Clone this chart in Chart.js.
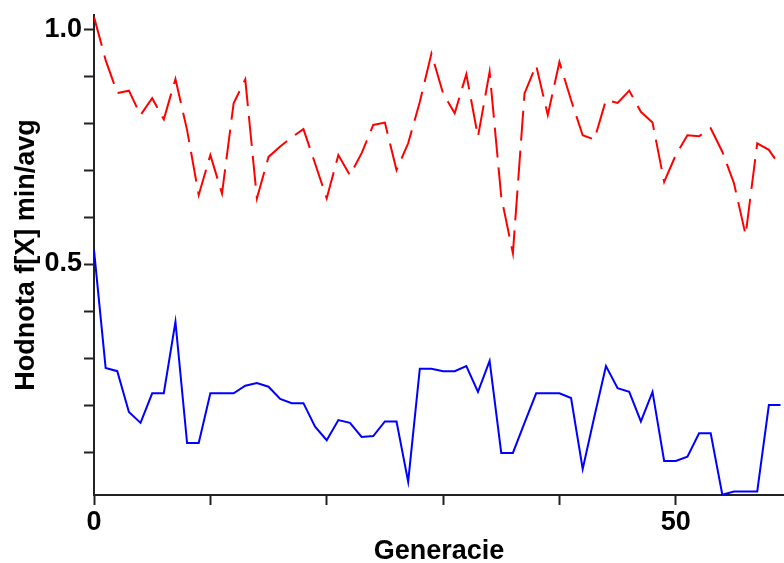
<!DOCTYPE html>
<html lang="cs">
<head>
    <meta charset="UTF-8">
    <title>Hodnota f[X] min/avg</title>
    <style>
        html, body{
            margin: 0;
            padding: 0;
            background-color: #fff;
        }
        .graf{
            position: relative;
            width: 784px;
            height: 563px;
        }
    </style>
</head>
<body>
    <div class="graf">
        <canvas id="graf"></canvas>
    </div>
    <script src="https://cdn.jsdelivr.net/npm/chart.js"></script>
    <script>
        // generace 0..59
        const generacie = [0, 1, 2, 3, 4, 5, 6, 7, 8, 9, 10, 11, 12, 13, 14, 15, 16, 17, 18, 19,
            20, 21, 22, 23, 24, 25, 26, 27, 28, 29, 30, 31, 32, 33, 34, 35, 36, 37, 38, 39,
            40, 41, 42, 43, 44, 45, 46, 47, 48, 49, 50, 51, 52, 53, 54, 55, 56, 57, 58, 59];

        // prumerna hodnota (cervena, carkovana)
        const avgHodnota = [1.026, 0.934, 0.864, 0.869, 0.817, 0.853, 0.808, 0.894, 0.785, 0.647,
            0.732, 0.650, 0.842, 0.893, 0.640, 0.728, 0.750, 0.770, 0.787, 0.714,
            0.640, 0.732, 0.689, 0.736, 0.796, 0.801, 0.700, 0.757, 0.845, 0.948,
            0.863, 0.821, 0.904, 0.771, 0.909, 0.643, 0.523, 0.863, 0.923, 0.817,
            0.930, 0.849, 0.774, 0.765, 0.849, 0.843, 0.869, 0.824, 0.801, 0.675,
            0.732, 0.774, 0.772, 0.789, 0.739, 0.672, 0.562, 0.757, 0.743, 0.707];

        // minimalni hodnota (modra)
        const minHodnota = [0.530, 0.279, 0.272, 0.185, 0.162, 0.225, 0.225, 0.377, 0.119, 0.119,
            0.225, 0.225, 0.225, 0.241, 0.247, 0.239, 0.213, 0.204, 0.204, 0.154,
            0.125, 0.168, 0.162, 0.132, 0.134, 0.165, 0.165, 0.037, 0.277, 0.277,
            0.272, 0.272, 0.283, 0.228, 0.294, 0.098, 0.098, 0.162, 0.225, 0.225,
            0.225, 0.215, 0.064, 0.175, 0.283, 0.236, 0.228, 0.165, 0.228, 0.081,
            0.081, 0.090, 0.140, 0.140, 0.009, 0.016, 0.016, 0.016, 0.200, 0.200];

        const xTicks = [0, 10, 20, 30, 40, 50];
        const xPopisky = ['0', '', '', '', '', '50'];
        const yTicks = [0.1, 0.2, 0.3, 0.4, 0.5, 0.6, 0.7, 0.8, 0.9, 1.0];
        const yPopisky = ['', '', '', '', '0.5', '', '', '', '', '1.0'];

        const pismo = {family: 'Arial, "Liberation Sans", sans-serif', size: 27, weight: 'bold', lineHeight: 1};
        const barvaOsy = '#222';

        function body(hodnoty){
            return generacie.map((g, i) => ({x: g, y: hodnoty[i]}));
        }

        new Chart(document.getElementById('graf').getContext('2d'), {
            type: 'line',
            data: {
                datasets: [{
                    label: 'avg',
                    data: body(avgHodnota),
                    borderColor: '#ff0000',
                    borderWidth: 2,
                    borderDash: [30, 10],
                    pointRadius: 0,
                    tension: 0,
                    fill: false
                }, {
                    label: 'min',
                    data: body(minHodnota),
                    borderColor: '#0000ff',
                    borderWidth: 2,
                    pointRadius: 0,
                    tension: 0,
                    fill: false
                }]
            },
            options: {
                responsive: true,
                maintainAspectRatio: false,
                animation: false,
                layout: {padding: 0},
                plugins: {
                    legend: {display: false},
                    tooltip: {enabled: false}
                },
                scales: {
                    x: {
                        type: 'linear',
                        min: 0,
                        max: 59.3,
                        afterFit: function(scale){ scale.height = 68; },
                        afterBuildTicks: function(scale){
                            scale.ticks = xTicks.map(v => ({value: v}));
                        },
                        ticks: {
                            autoSkip: false,
                            maxRotation: 0,
                            padding: 4,
                            color: '#000',
                            font: pismo,
                            callback: function(value){
                                const i = xTicks.indexOf(value);
                                return i >= 0 ? xPopisky[i] : '';
                            }
                        },
                        grid: {
                            drawOnChartArea: false,
                            drawTicks: true,
                            tickLength: 10,
                            tickColor: barvaOsy,
                            tickWidth: 2
                        },
                        border: {display: true, color: barvaOsy, width: 2},
                        title: {
                            display: true,
                            text: 'Generacie',
                            color: '#000',
                            font: pismo,
                            padding: {top: 0, bottom: -2}
                        }
                    },
                    y: {
                        type: 'linear',
                        min: 0.0085,
                        max: 1.03,
                        afterFit: function(scale){
                            scale.width = 94;
                            scale.paddingTop = 15;
                            scale.paddingBottom = 0;
                        },
                        afterBuildTicks: function(scale){
                            scale.ticks = yTicks.map(v => ({value: v}));
                        },
                        ticks: {
                            autoSkip: false,
                            padding: 2,
                            color: '#000',
                            font: pismo,
                            callback: function(value){
                                const i = yTicks.indexOf(value);
                                return i >= 0 ? yPopisky[i] : '';
                            }
                        },
                        grid: {
                            drawOnChartArea: false,
                            drawTicks: true,
                            tickLength: 10,
                            tickColor: barvaOsy,
                            tickWidth: 2
                        },
                        border: {display: true, color: barvaOsy, width: 2},
                        title: {
                            display: true,
                            text: 'Hodnota f[X] min/avg',
                            color: '#000',
                            font: pismo,
                            padding: {top: 13, bottom: 0}
                        }
                    }
                }
            }
        });
    </script>
</body>
</html>
